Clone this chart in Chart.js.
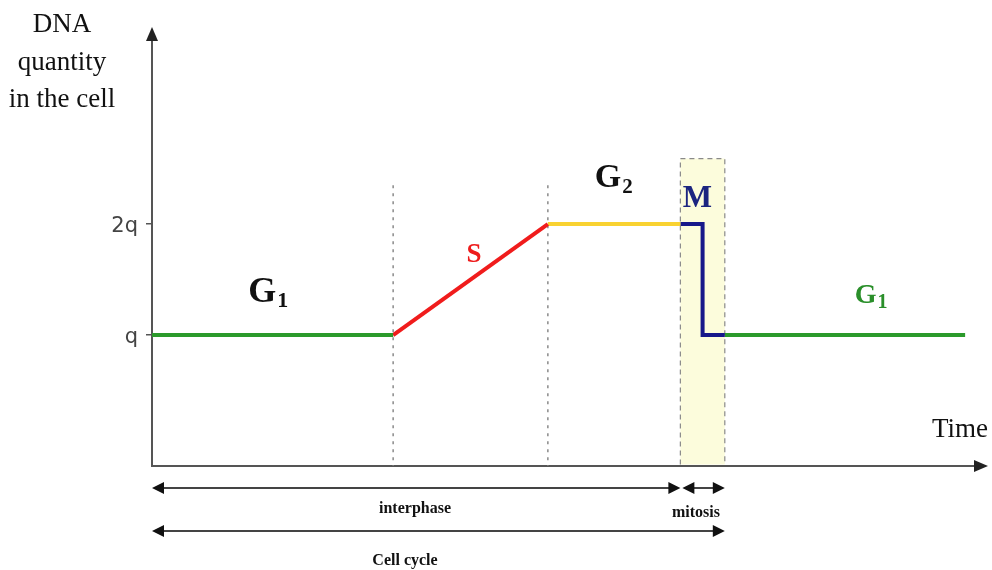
<!DOCTYPE html>
<html>
<head>
<meta charset="utf-8">
<script src="https://cdn.jsdelivr.net/npm/chart.js@4.4.1/dist/chart.umd.min.js"></script>
<style>
  body { margin: 0; background: #fff; }
  canvas { display: block; }
</style>
</head>
<body>
<canvas id="cicloCelular" width="992" height="570"></canvas>
<script>
// Datos del ciclo celular (tiempo en unidades arbitrarias, ADN en múltiplos de q)
const phaseNames = ['G1', 'S', 'G2', 'M', 'G1'];
const g1Time = [0, 29.3];
const g1Dna = [1, 1];
const sTime = [29.3, 48.1];
const sDna = [1, 2];
const g2Time = [48.1, 64.2];
const g2Dna = [2, 2];
const mTime = [64.2, 66.9, 66.9, 69.6];
const mDna = [2, 2, 1, 1];
const g1bTime = [69.6, 98.8];
const g1bDna = [1, 1];
const guideTimes = [29.3, 48.1];   // separaciones de la interfase
const yTickValues = [1, 2];
const yTickLabels = ['q', '2q'];

function toPoints(xs, ys) {
    return xs.map((x, i) => ({ x: x, y: ys[i] }));
}

function lineSet(label, xs, ys, color) {
    return {
        label: label,
        data: toPoints(xs, ys),
        showLine: true,
        borderColor: color,
        borderWidth: 4,
        pointRadius: 0,
        tension: 0,
        borderJoinStyle: 'miter'
    };
}

const datasets = [
    lineSet(phaseNames[0], g1Time, g1Dna, '#2b9a2b'),
    lineSet(phaseNames[1], sTime, sDna, '#f01c1c'),
    lineSet(phaseNames[2], g2Time, g2Dna, '#f9d231'),
    lineSet(phaseNames[3], mTime, mDna, '#17188a'),
    lineSet(phaseNames[4], g1bTime, g1bDna, '#2b9a2b')
];
// líneas punteadas verticales
guideTimes.forEach(t => {
    datasets.push({
        label: 'guia',
        data: [{ x: t, y: -0.2 }, { x: t, y: 2.38 }],
        showLine: true,
        borderColor: '#8a8a8a',
        borderWidth: 1.5,
        borderDash: [3, 5],
        pointRadius: 0
    });
});

function arrowHead(ctx, x, y, dir, len, half) {
    ctx.beginPath();
    if (dir === 'right') {
        ctx.moveTo(x, y); ctx.lineTo(x - len, y - half); ctx.lineTo(x - len, y + half);
    } else if (dir === 'left') {
        ctx.moveTo(x, y); ctx.lineTo(x + len, y - half); ctx.lineTo(x + len, y + half);
    } else {
        ctx.moveTo(x, y); ctx.lineTo(x - half, y + len); ctx.lineTo(x + half, y + len);
    }
    ctx.closePath();
    ctx.fill();
}

function doubleArrow(ctx, x1, x2, y) {
    ctx.beginPath();
    ctx.moveTo(x1 + 6, y);
    ctx.lineTo(x2 - 6, y);
    ctx.stroke();
    arrowHead(ctx, x1, y, 'left', 12, 6);
    arrowHead(ctx, x2, y, 'right', 12, 6);
}

function phaseLabel(ctx, main, sub, x, y, size, subSize, color) {
    ctx.fillStyle = color;
    ctx.textAlign = 'left';
    ctx.textBaseline = 'alphabetic';
    ctx.font = 'bold ' + size + 'px "Liberation Serif"';
    ctx.fillText(main, x, y);
    if (sub) {
        const w = ctx.measureText(main).width;
        ctx.font = 'bold ' + subSize + 'px "Liberation Serif"';
        ctx.fillText(sub, x + w + 1, y + subSize * 0.25);
    }
}

const overlay = {
    id: 'overlay',
    beforeDatasetsDraw(chart) {
        // caja de la mitosis
        const ctx = chart.ctx;
        const xs = chart.scales.x, ys = chart.scales.y;
        const x1 = xs.getPixelForValue(mTime[0]);
        const x2 = xs.getPixelForValue(mTime[mTime.length - 1]);
        const top = ys.getPixelForValue(2.59);
        const bottom = chart.chartArea.bottom - 1.5;
        ctx.save();
        ctx.fillStyle = '#fcfcdc';
        ctx.fillRect(x1, top, x2 - x1, bottom - top);
        ctx.strokeStyle = '#8a8a8a';
        ctx.lineWidth = 1.2;
        ctx.setLineDash([5, 4]);
        ctx.beginPath();
        ctx.moveTo(x1, bottom); ctx.lineTo(x1, top); ctx.lineTo(x2, top); ctx.lineTo(x2, bottom);
        ctx.stroke();
        ctx.restore();
    },
    afterDraw(chart) {
        const ctx = chart.ctx;
        const area = chart.chartArea;
        const xs = chart.scales.x, ys = chart.scales.y;
        ctx.save();
        // flechas de los ejes
        ctx.fillStyle = '#222';
        ctx.strokeStyle = '#555';
        ctx.lineWidth = 2;
        arrowHead(ctx, area.left, area.top - 13, 'up', 14, 6);
        ctx.beginPath();
        ctx.moveTo(area.right, area.bottom);
        ctx.lineTo(area.right + 4, area.bottom);
        ctx.stroke();
        arrowHead(ctx, area.right + 13, area.bottom, 'right', 14, 6);

        // nombres de las fases
        phaseLabel(ctx, 'G', '1', xs.getPixelForValue(11.7), ys.getPixelForValue(1.30), 36, 22, '#111');
        phaseLabel(ctx, 'S', '', xs.getPixelForValue(38.2), ys.getPixelForValue(1.66), 27, 0, '#ee1c1c');
        phaseLabel(ctx, 'G', '2', xs.getPixelForValue(53.8), ys.getPixelForValue(2.33), 34, 21, '#111');
        phaseLabel(ctx, 'M', '', xs.getPixelForValue(64.5), ys.getPixelForValue(2.15), 31, 0, '#1c2580');
        phaseLabel(ctx, 'G', '1', xs.getPixelForValue(85.4), ys.getPixelForValue(1.29), 28, 20, '#2a8f2a');

        // títulos de los ejes
        ctx.fillStyle = '#111';
        ctx.textAlign = 'center';
        ctx.font = '27px "Liberation Serif"';
        ctx.fillText('DNA', 62, 32);
        ctx.fillText('quantity', 62, 70);
        ctx.fillText('in the cell', 62, 107);
        ctx.textAlign = 'left';
        ctx.font = '27px "Liberation Serif"';
        ctx.fillText('Time', 932, 437);

        // flechas inferiores
        const x0 = xs.getPixelForValue(g1Time[0]);
        const xm = xs.getPixelForValue(mTime[0]);
        const xe = xs.getPixelForValue(mTime[mTime.length - 1]);
        ctx.fillStyle = '#111';
        ctx.strokeStyle = '#444';
        ctx.lineWidth = 2;
        doubleArrow(ctx, x0, xm, 488);
        doubleArrow(ctx, xm + 2, xe, 488);
        doubleArrow(ctx, x0, xe, 531);

        ctx.fillStyle = '#111';
        ctx.textAlign = 'center';
        ctx.font = 'bold 16px "Liberation Serif"';
        ctx.fillText('interphase', 415, 513);
        ctx.fillText('mitosis', 696, 517);
        ctx.fillText('Cell cycle', 405, 565);
        ctx.restore();
    }
};

const chart = new Chart(document.getElementById('cicloCelular').getContext('2d'), {
    type: 'scatter',
    data: { datasets: datasets },
    options: {
        responsive: false,
        animation: false,
        devicePixelRatio: 1,
        layout: { padding: { top: 40, right: 17, left: 0, bottom: 0 } },
        plugins: {
            legend: { display: false },
            tooltip: { enabled: false }
        },
        scales: {
            x: {
                type: 'linear',
                min: 0,
                max: 100,
                grid: { display: false },
                ticks: { display: false },
                border: { display: true, color: '#555', width: 2 },
                afterFit: function(scale) { scale.height = 104; }
            },
            y: {
                type: 'linear',
                min: -0.18,
                max: 3.658,
                afterBuildTicks: function(scale) {
                    scale.ticks = yTickValues.map(v => ({ value: v }));
                },
                ticks: {
                    padding: 8,
                    labelOffset: 3,
                    color: '#444',
                    font: { family: 'DejaVu Sans', size: 21 },
                    callback: function(value) {
                        const i = yTickValues.indexOf(value);
                        return i >= 0 ? yTickLabels[i] : '';
                    }
                },
                grid: { display: true, drawOnChartArea: false, drawTicks: true, tickLength: 6, color: '#555', lineWidth: 1.5 },
                border: { display: true, color: '#555', width: 2 },
                afterFit: function(scale) { scale.width = 152; }
            }
        }
    },
    plugins: [overlay]
});
</script>
</body>
</html>
